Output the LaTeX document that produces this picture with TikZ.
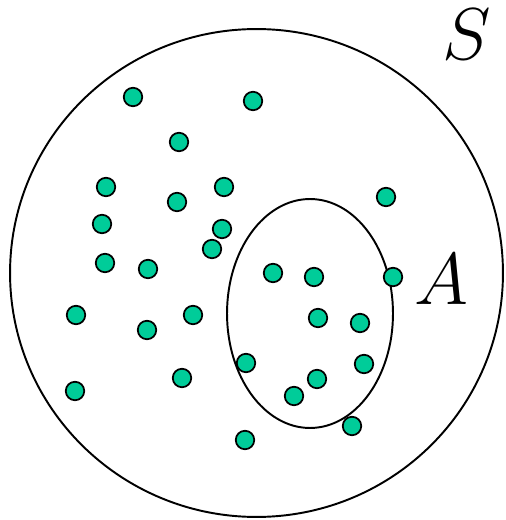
\documentclass[tikz,border=0pt]{standalone}
\usepackage{xcolor}
\usetikzlibrary{shapes.geometric}
\definecolor{dotgreen}{HTML}{00CC99}

\begin{document}
\begin{tikzpicture}[x=0.02cm,y=-0.02cm]
\tikzstyle{setline}=[draw=black,line width=1.1pt,inner sep=0pt]
\tikzstyle{sample}=[circle,draw=black,fill=dotgreen,line width=1pt,minimum size=0.37cm,inner sep=0pt]
\tikzstyle{setlabel}=[font=\Huge,scale=1.68,inner sep=0pt]
\useasboundingbox (0,0) rectangle (505,520);
% sample space and event
\node[setline,ellipse,minimum width=9.86cm,minimum height=9.76cm] (space) at (256.5,273) {};
\node[setline,ellipse,minimum width=3.32cm,minimum height=4.58cm] (event) at (310,313.5) {};
\node[setlabel] (labelS) at (467,34) {$S$};
\node[setlabel] (labelA) at (441,279) {$A$};
% outcomes
\foreach \px/\py [count=\i] in {133/97,253/101,179/142,106/187,224/187,177/202,386/197,102/224,
  222/229,212/249,105/263,148/269,273/273,314/277,393/277,76/315,193/315,147/330,318/318,
  360/323,246/363,364/364,182/378,317/379,294/396,75/391,352/426,245/440}
  \node[sample] (pt\i) at (\px,\py) {};
\end{tikzpicture}
\end{document}
